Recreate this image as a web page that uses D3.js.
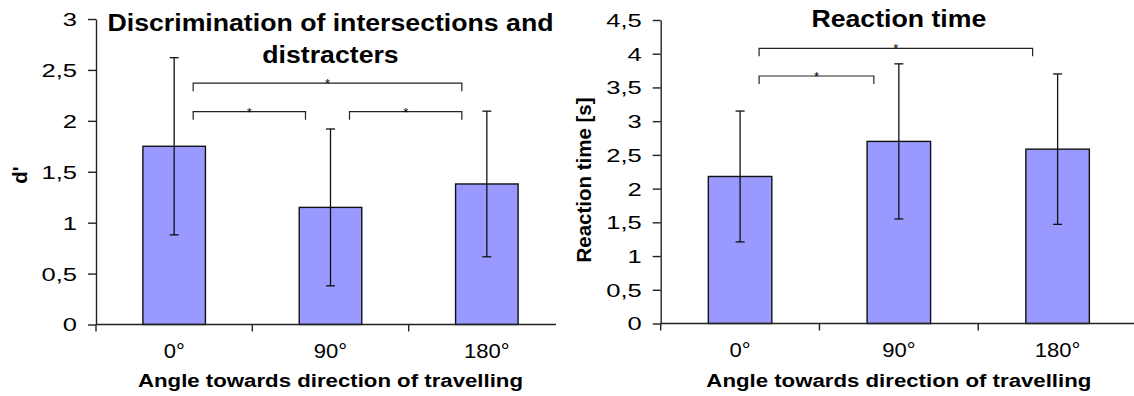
<!DOCTYPE html>
<html><head><meta charset="utf-8">
<script src="https://cdn.jsdelivr.net/npm/d3@7"></script>
<style>body{margin:0;background:#fff}svg{display:block}text{font-family:"Liberation Sans",Arial,sans-serif;fill:#000}</style>
</head><body><svg id="c" width="1134" height="396"></svg>
<script>
const categories = ["0°", "90°", "180°"];
const dprimeMeans = [1.75, 1.15, 1.38];
const dprimeSD = [0.87, 0.77, 0.715];
const dprimeTicks = [0, 0.5, 1, 1.5, 2, 2.5, 3];
const dprimeBrackets = [{from: 0, to: 2, y: 2.37}, {from: 0, to: 1, y: 2.09}, {from: 1, to: 2, y: 2.09}];
const rtMeans = [2.18, 2.70, 2.585];
const rtSD = [0.97, 1.15, 1.115];
const rtTicks = [0, 0.5, 1, 1.5, 2, 2.5, 3, 3.5, 4, 4.5];
const rtBrackets = [{from: 0, to: 2, y: 4.08}, {from: 0, to: 1, y: 3.67}];
const leftTitle = ["Discrimination of intersections and", "distracters"];
const rightTitle = ["Reaction time"];
const xTitle = "Angle towards direction of travelling";

const svg = d3.select("#c");
const fmt = v => String(v).replace(".", ",");

function chart(cfg) {
  const g = svg.append("g");
  if (cfg.clip) {
    svg.append("clipPath").attr("id", cfg.id + "clip").append("rect")
      .attr("x", 0).attr("y", 0).attr("width", cfg.clip).attr("height", 396);
    g.attr("clip-path", `url(#${cfg.id}clip)`);
  }
  const x = d3.scaleBand().domain(categories).range(cfg.xr).paddingInner(0).paddingOuter(0);
  const y = d3.scaleLinear().domain([0, cfg.max]).range(cfg.yr);
  const bw = x.bandwidth() * 0.4;
  const cx = c => x(c) + x.bandwidth() / 2;

  // bars
  g.selectAll("rect.bar").data(cfg.means).join("rect").attr("class", "bar")
    .attr("x", (d, i) => cx(categories[i]) - bw / 2)
    .attr("y", d => y(d)).attr("width", bw).attr("height", d => y(0) - y(d))
    .attr("fill", "#9999ff").attr("stroke", "#111").attr("stroke-width", 1.4);

  // error bars
  const eb = g.selectAll("g.eb").data(cfg.means).join("g").attr("class", "eb")
    .attr("stroke", "#111").attr("stroke-width", 1.3);
  eb.append("line").attr("x1", (d, i) => cx(categories[i])).attr("x2", (d, i) => cx(categories[i]))
    .attr("y1", (d, i) => y(d + cfg.sd[i])).attr("y2", (d, i) => y(d - cfg.sd[i]));
  [1, -1].forEach(s => {
    eb.append("line").attr("x1", (d, i) => cx(categories[i]) - 4.5).attr("x2", (d, i) => cx(categories[i]) + 4.5)
      .attr("y1", (d, i) => y(d + s * cfg.sd[i])).attr("y2", (d, i) => y(d + s * cfg.sd[i]));
  });

  // y axis
  const ya = g.append("g").attr("transform", `translate(${cfg.xr[0]},0)`)
    .call(d3.axisLeft(y).tickValues(cfg.ticks).tickFormat(fmt).tickSize(8).tickSizeOuter(0).tickPadding(2));
  ya.select(".domain").attr("stroke", "#222").attr("stroke-width", 1.4);
  ya.selectAll(".tick line").attr("stroke", "#222").attr("stroke-width", 1.4);
  ya.selectAll(".tick text").attr("font-size", 18).attr("font-family", '"Liberation Sans",Arial,sans-serif').attr("fill", "#000")
    .attr("x", null).attr("dy", "0.36em").attr("transform", `translate(-19,0) scale(1.42,1)`);

  // x axis: ticks at band boundaries
  const xa = g.append("g").attr("transform", `translate(0,${cfg.yr[0]})`);
  xa.append("line").attr("x1", cfg.xr[0]).attr("x2", cfg.xr[1]).attr("stroke", "#222").attr("stroke-width", 1.4);
  const bounds = categories.map(c => x(c)).concat([cfg.xr[1]]);
  xa.selectAll("line.t").data(bounds).join("line").attr("class", "t")
    .attr("x1", d => d).attr("x2", d => d).attr("y1", 0).attr("y2", 7).attr("stroke", "#222").attr("stroke-width", 1.4);
  xa.selectAll("text").data(categories).join("text")
    .attr("transform", d => `translate(${cx(d)},33) scale(1.05,1)`).attr("text-anchor", "middle")
    .attr("font-size", 21).text(d => d);

  // brackets
  const br = g.selectAll("g.br").data(cfg.brackets).join("g").attr("class", "br");
  br.append("path").attr("fill", "none").attr("stroke", "#222").attr("stroke-width", 1.2)
    .attr("d", d => {
      const x1 = cx(categories[d.from]) + 19, x2 = cx(categories[d.to]) - 25, yy = y(d.y);
      return `M${x1},${yy + 8}V${yy}H${x2}V${yy + 8}`;
    });
  br.append("text").attr("x", d => (cx(categories[d.from]) + 19 + cx(categories[d.to]) - 25) / 2)
    .attr("y", d => y(d.y) + 5).attr("text-anchor", "middle").attr("font-size", 13).text("*");

  // title
  const mid = (cfg.xr[0] + cfg.xr[1]) / 2;
  g.append("g").selectAll("text").data(cfg.title).join("text")
    .attr("transform", (d, i) => `translate(${mid},${cfg.titleY + i * 32}) scale(1.16,1)`)
    .attr("text-anchor", "middle").attr("font-size", 23).attr("font-weight", "bold").text(d => d);

  // axis titles
  g.append("text").attr("transform", `translate(${mid},387) scale(1.17,1)`).attr("text-anchor", "middle")
    .attr("font-size", 19).attr("font-weight", "bold").text(xTitle);
  g.append("text").attr("transform", `translate(${cfg.yTitleX},${cfg.yTitleY}) rotate(-90)`).attr("text-anchor", "middle")
    .attr("font-size", 20.5).attr("font-weight", "bold").text(cfg.yTitle);
}

chart({id: "l", xr: [96, 565], yr: [324.5, 19], max: 3, ticks: dprimeTicks, means: dprimeMeans, sd: dprimeSD,
  brackets: dprimeBrackets, title: leftTitle, titleY: 31, yTitle: "d'", yTitleX: 27, yTitleY: 175, clip: 556});
chart({id: "r", xr: [660.7, 1137], yr: [323.5, 20], max: 4.5, ticks: rtTicks, means: rtMeans, sd: rtSD,
  brackets: rtBrackets, title: rightTitle, titleY: 27, yTitle: "Reaction time [s]", yTitleX: 591, yTitleY: 180});
</script></body></html>
